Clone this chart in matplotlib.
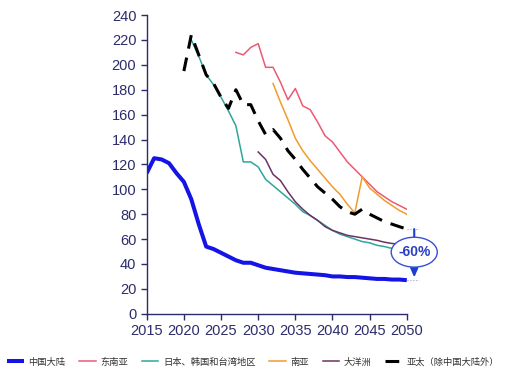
import numpy as np
import matplotlib
matplotlib.use("Agg")
import matplotlib.pyplot as plt
from matplotlib.patches import Ellipse

plt.rcParams['font.family'] = ['Liberation Sans', 'Noto Sans CJK SC', 'DejaVu Sans']

# series by region, index = year
years_cn = list(range(2015, 2051))
cn = [113, 125, 124, 121, 113, 106, 92, 72, 54, 52, 49, 46, 43, 41, 41, 39, 37, 36,
      35, 34, 33, 32.5, 32, 31.5, 31, 30, 30, 29.5, 29.5, 29, 28.5, 28, 28, 27.5, 27.5, 27]

years_sea = list(range(2027, 2051))
sea = [210, 208, 214, 217, 198, 198, 186, 172, 181, 167, 164, 154, 143, 138, 130, 122,
       116, 110, 104, 98, 94, 90, 87, 84]

years_jkt = list(range(2021, 2051))
jkt = [220, 207, 192, 184, 174, 163, 151, 122, 122, 118, 108, 103, 98, 93, 88, 82,
       79, 75, 71, 67, 64, 62, 60, 58, 57, 55, 54, 52.5, 51, 50]

years_sa = list(range(2032, 2051))
sa = [185, 170, 156, 141, 131, 123, 116, 109, 102, 96, 88, 81, 110, 101, 96, 91, 87, 83, 80]

years_oc = list(range(2030, 2051))
oc = [130, 124, 112, 107, 98, 90, 84, 79, 75, 70, 67, 65, 63, 62, 61, 60, 59, 57.5, 56.5, 56, 55]

years_apac = list(range(2020, 2051))
apac = [195, 224, 208, 192, 185, 174, 165, 180, 168, 168, 155, 144, 148, 141, 131, 124,
        116, 109, 102, 97, 92, 86, 82, 80, 84, 80, 77, 74, 72, 70, 68]

labels = ['中国大陆', '东南亚', '日本、韩国和台湾地区', '南亚', '大洋洲', '亚太（除中国大陆外）']
drop_text = '-60%'

axis_col = '#2c2c6c'
arrow_col = '#1a3fd0'

fig = plt.figure(figsize=(5.13, 3.67), dpi=100)
ax = fig.add_axes([0.286, 0.145, 0.507, 0.814])

ax.plot(years_cn, cn, color='#1414e6', lw=2.9, label=labels[0], solid_capstyle='butt')
ax.plot(years_sea, sea, color='#ec5a72', lw=1.1, label=labels[1])
ax.plot(years_jkt, jkt, color='#2fa59c', lw=1.1, label=labels[2])
ax.plot(years_sa, sa, color='#f39a2e', lw=1.1, label=labels[3])
ax.plot(years_oc, oc, color='#6a3363', lw=1.1, label=labels[4])
ax.plot(years_apac, apac, color='black', lw=2.2, dashes=(4.5, 3), label=labels[5])

# change between APAC ex-China and China in 2050
ax.plot([2050, 2051.7], [apac[-1], apac[-1]], color='#9a9ad8', lw=0.8, ls=':', clip_on=False)
ax.plot([2050, 2051.7], [cn[-1], cn[-1]], color='#9a9ad8', lw=0.8, ls=':', clip_on=False)
ax.annotate('', xy=(2051, cn[-1]), xytext=(2051, apac[-1]),
            arrowprops=dict(arrowstyle='-|>,head_length=0.5,head_width=0.22',
                            color=arrow_col, lw=1.5, shrinkA=0, shrinkB=2),
            annotation_clip=False)
ax.add_patch(Ellipse((2051, 49.5), 6.2, 24, fc='white', ec='#3a4fd0', lw=1.0,
                     clip_on=False, zorder=5))
ax.text(2051, 49.5, drop_text, ha='center', va='center', fontsize=10,
        fontweight='bold', color='#2a3fbf', clip_on=False, zorder=6)

ax.set_xlim(2015, 2050)
ax.set_ylim(0, 240)
ax.set_xticks(range(2015, 2051, 5))
ax.set_yticks(range(0, 241, 20))
for s in ['top', 'right']:
    ax.spines[s].set_visible(False)
for s in ['left', 'bottom']:
    ax.spines[s].set_color(axis_col)
    ax.spines[s].set_linewidth(1.0)
ax.tick_params(colors=axis_col, labelsize=10.5, length=4, width=1.0, direction='out')
ax.tick_params(axis='x', pad=3)

fig.legend(loc='center left', bbox_to_anchor=(0.014, 1 - 362 / 367), ncol=6, frameon=False,
           fontsize=6.7, handlelength=1.8, columnspacing=1.45, handletextpad=0.5,
           borderpad=0, borderaxespad=0, labelcolor='#333333')

fig.savefig('out.png', dpi=100)
